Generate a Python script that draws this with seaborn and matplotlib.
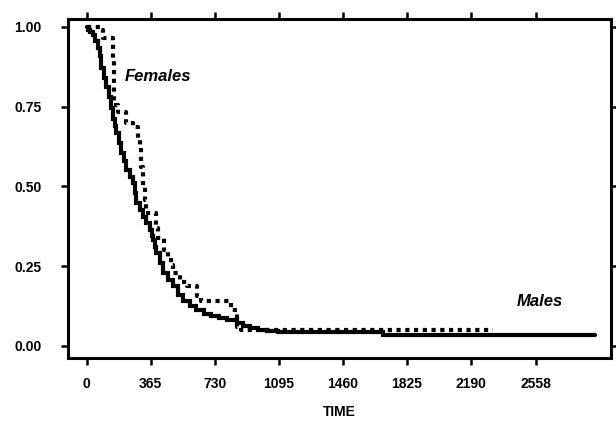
import matplotlib
matplotlib.use("Agg")
import matplotlib.pyplot as plt
import seaborn as sns
import pandas as pd

# Males (solid) Kaplan-Meier steps
male_time = [0, 7, 20, 36, 50, 64, 74, 84, 98, 112, 126, 141, 150, 160, 169, 183, 198, 212,
             226, 245, 264, 274, 283, 302, 321, 340, 359, 370, 378, 388, 397, 416, 435, 464,
             492, 520, 549, 587, 625, 668, 711, 754, 797, 854, 890, 930, 977, 1030, 1090,
             1690, 2895]
male_surv = [1.0, 0.99, 0.985, 0.975, 0.955, 0.933, 0.91, 0.87, 0.84, 0.81, 0.78, 0.745,
             0.71, 0.69, 0.667, 0.635, 0.605, 0.58, 0.552, 0.53, 0.51, 0.48, 0.447, 0.425,
             0.405, 0.385, 0.364, 0.345, 0.332, 0.31, 0.29, 0.26, 0.228, 0.205, 0.186, 0.16,
             0.139, 0.125, 0.113, 0.10, 0.092, 0.086, 0.081, 0.071, 0.063, 0.055, 0.05,
             0.045, 0.042, 0.033, 0.033]

# Females (dotted) Kaplan-Meier steps
female_time = [0, 74, 90, 152, 155, 158, 178, 226, 264, 293, 302, 312, 322, 331, 340, 397,
               407, 440, 464, 483, 492, 530, 569, 626, 654, 825, 854, 882, 2316]
female_surv = [1.0, 0.99, 0.965, 0.90, 0.83, 0.755, 0.734, 0.698, 0.687, 0.645, 0.62, 0.56,
               0.50, 0.457, 0.416, 0.369, 0.337, 0.30, 0.275, 0.254, 0.228, 0.20, 0.186,
               0.155, 0.139, 0.113, 0.06, 0.05, 0.05]

x_ticks = [0, 365, 730, 1095, 1460, 1825, 2190, 2558]
x_tick_labels = ["0", "365", "730", "1095", "1460", "1825", "2190", "2558"]
y_ticks = [0.0, 0.25, 0.5, 0.75, 1.0]
y_tick_labels = ["0.00", "0.25", "0.50", "0.75", "1.00"]

sns.set_style("white")
plt.rcParams['font.family'] = ['Liberation Sans', 'DejaVu Sans']
plt.rcParams['text.color'] = 'black'
plt.rcParams['axes.labelcolor'] = 'black'
plt.rcParams['xtick.color'] = 'black'
plt.rcParams['ytick.color'] = 'black'

fig = plt.figure(figsize=(6.16, 4.21), dpi=100)
ax = fig.add_axes([0.110, 0.150, 0.882, 0.805])

dm = pd.DataFrame({"time": male_time, "surv": male_surv})
df = pd.DataFrame({"time": female_time, "surv": female_surv})

sns.lineplot(data=dm, x="time", y="surv", ax=ax, estimator=None, sort=False,
             drawstyle="steps-post", color="black", linewidth=3.0,
             solid_joinstyle="miter")
sns.lineplot(data=df, x="time", y="surv", ax=ax, estimator=None, sort=False,
             drawstyle="steps-post", color="black", linewidth=3.0,
             dashes=False, linestyle=(0, (1, 1.1)), dash_capstyle="butt")

ax.set_xlim(-108, 2988)
ax.set_ylim(-0.038, 1.025)
ax.set_xticks(x_ticks)
ax.set_xticklabels(x_tick_labels)
ax.set_yticks(y_ticks)
ax.set_yticklabels(y_tick_labels)

for s in ax.spines.values():
    s.set_visible(True)
    s.set_linewidth(2.2)
    s.set_color("black")

ax.tick_params(axis="both", which="both", direction="out", length=5, width=1.8,
               color="black", labelcolor="black", top=True, right=True, bottom=True,
               left=True, labelsize=10, pad=9)
for lab in ax.get_xticklabels() + ax.get_yticklabels():
    lab.set_fontweight("bold")
ax.tick_params(axis="y", pad=14)

ax.set_xlabel("TIME", fontsize=10, fontweight="bold", labelpad=10, color="black")
ax.set_ylabel("")

ax.text(217, 0.843, "Females", fontsize=12, fontweight="bold", fontstyle="italic",
        ha="left", va="center", color="black")
ax.text(2452, 0.138, "Males", fontsize=12, fontweight="bold", fontstyle="italic",
        ha="left", va="center", color="black")

fig.savefig("out.png", dpi=100, facecolor="white")
